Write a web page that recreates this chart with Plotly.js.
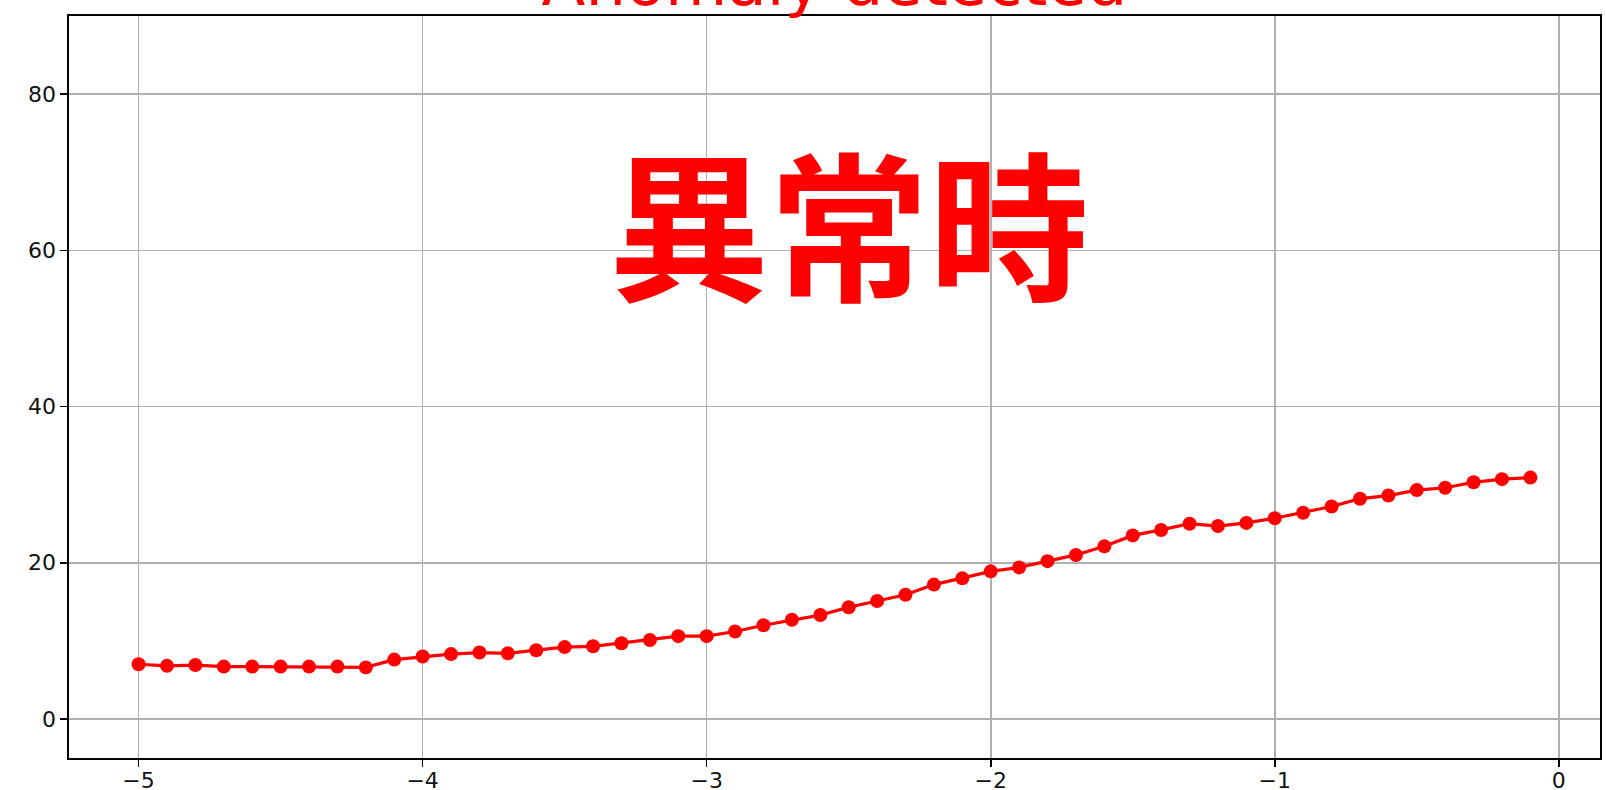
<!DOCTYPE html>
<html>
<head>
<meta charset="utf-8">
<script src="https://cdn.plot.ly/plotly-3.0.1.min.js"></script>
<style>
  html, body { margin: 0; padding: 0; background: #ffffff; }
  #chart { width: 1606px; height: 790px; }
</style>
</head>
<body>
<div id="chart"></div>
<script>
// Data
const xValues = [-5.0, -4.9, -4.8, -4.7, -4.6, -4.5, -4.4, -4.3, -4.2, -4.1,
                 -4.0, -3.9, -3.8, -3.7, -3.6, -3.5, -3.4, -3.3, -3.2, -3.1,
                 -3.0, -2.9, -2.8, -2.7, -2.6, -2.5, -2.4, -2.3, -2.2, -2.1,
                 -2.0, -1.9, -1.8, -1.7, -1.6, -1.5, -1.4, -1.3, -1.2, -1.1,
                 -1.0, -0.9, -0.8, -0.7, -0.6, -0.5, -0.4, -0.3, -0.2, -0.1];
const yValues = [7.0, 6.8, 6.9, 6.7, 6.7, 6.7, 6.7, 6.7, 6.6, 7.6,
                 8.0, 8.3, 8.5, 8.4, 8.8, 9.2, 9.3, 9.7, 10.1, 10.6,
                 10.6, 11.2, 12.0, 12.7, 13.3, 14.3, 15.1, 15.9, 17.2, 18.0,
                 18.9, 19.4, 20.2, 21.0, 22.1, 23.5, 24.2, 25.0, 24.7, 25.1,
                 25.7, 26.4, 27.2, 28.2, 28.6, 29.3, 29.6, 30.3, 30.7, 30.9];
const xTicks = [-5, -4, -3, -2, -1, 0];
const yTicks = [0, 20, 40, 60, 80];
const titleText = "Anomaly detected";
const stampText = "異常時";
const stampX = -2.5;
const stampY = 64;

const trace = {
  x: xValues,
  y: yValues,
  type: "scatter",
  mode: "lines+markers",
  line: { color: "#ff0000", width: 3.2 },
  marker: { color: "#ff0000", size: 14 },
  hoverinfo: "skip",
  showlegend: false
};

const axisCommon = {
  showline: true,
  mirror: true,
  linecolor: "#000000",
  linewidth: 1.6,
  showgrid: true,
  gridcolor: "#b0b0b0",
  gridwidth: 1.6,
  zeroline: false,
  ticks: "outside",
  ticklen: 7,
  tickwidth: 1.6,
  tickcolor: "#000000",
  tickfont: { family: "DejaVu Sans", size: 22, color: "#111111" }
};

const layout = {
  width: 1606,
  height: 790,
  paper_bgcolor: "#ffffff",
  plot_bgcolor: "#ffffff",
  margin: { l: 69, r: 6, t: 16, b: 32 },
  title: {
    text: titleText,
    font: { family: "DejaVu Sans", size: 64, color: "#ff0000" },
    xref: "paper", x: 0.5, xanchor: "center",
    yref: "paper", y: 1, yanchor: "bottom",
    pad: { b: 11, t: 0, l: 0, r: 0 }
  },
  xaxis: Object.assign({}, axisCommon, {
    range: [-5.245, 0.145],
    tickmode: "array",
    tickvals: xTicks,
    ticklabelstandoff: -5
  }),
  yaxis: Object.assign({}, axisCommon, {
    range: [-5, 90],
    tickmode: "array",
    tickvals: yTicks
  }),
  annotations: [{
    text: stampText,
    x: stampX, y: stampY,
    xref: "x", yref: "y",
    xanchor: "center", yanchor: "middle",
    showarrow: false,
    font: { family: "Noto Sans CJK JP", size: 160, color: "#ff0000", weight: 700 }
  }]
};

Plotly.newPlot("chart", [trace], layout, { staticPlot: true, displayModeBar: false });
</script>
</body>
</html>
